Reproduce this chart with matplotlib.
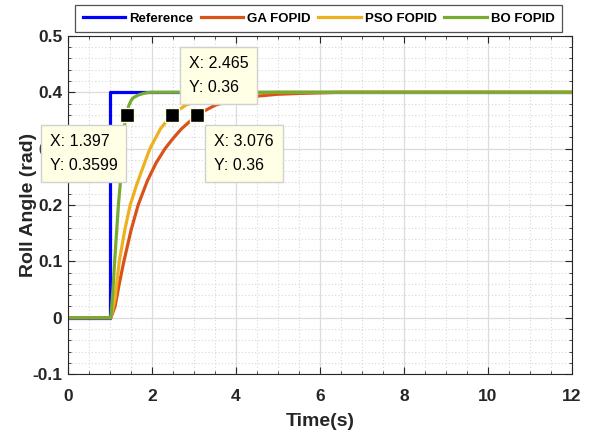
import matplotlib
matplotlib.use("Agg")
import matplotlib.pyplot as plt
from matplotlib.ticker import MultipleLocator

# step responses
t_ref = [0, 1.0, 1.0, 12]
y_ref = [0, 0, 0.4, 0.4]

t_ga = [0, 1.02, 1.12, 1.22, 1.33, 1.5, 1.67, 1.89, 2.1, 2.31, 2.5, 2.7, 3.076, 3.5, 4.0, 4.33, 5.0, 5.52, 6.5, 12]
y_ga = [0, 0, 0.02, 0.06, 0.1, 0.155, 0.2, 0.243, 0.275, 0.3, 0.318, 0.335, 0.36, 0.377, 0.388, 0.392, 0.3965, 0.398, 0.4, 0.4]

t_pso = [0, 1.02, 1.12, 1.22, 1.35, 1.48, 1.63, 1.8, 1.95, 2.2, 2.465, 2.8, 3.2, 3.6, 4.0, 4.5, 5.0, 12]
y_pso = [0, 0, 0.035, 0.1, 0.155, 0.2, 0.235, 0.27, 0.3, 0.335, 0.36, 0.377, 0.388, 0.394, 0.397, 0.399, 0.4, 0.4]

t_bo = [0, 1.02, 1.07, 1.11, 1.2, 1.25, 1.28, 1.34, 1.397, 1.44, 1.5, 1.55, 1.67, 1.8, 1.95, 2.3, 12]
y_bo = [0, 0, 0.05, 0.1, 0.2, 0.243, 0.3, 0.34, 0.36, 0.375, 0.385, 0.39, 0.395, 0.398, 0.4, 0.4, 0.4]

x_ticks = [0, 2, 4, 6, 8, 10, 12]
y_ticks = [-0.1, 0, 0.1, 0.2, 0.3, 0.4, 0.5]
y_labels = ["-0.1", "0", "0.1", "0.2", "0.3", "0.4", "0.5"]

tips_x = [1.397, 2.465, 3.076]
tips_y = [0.3599, 0.36, 0.36]
tips_txt = ["X: 1.397\nY: 0.3599", "X: 2.465\nY: 0.36", "X: 3.076\nY: 0.36"]

font = ["Liberation Sans", "DejaVu Sans"]
dark = "#262626"

fig = plt.figure(figsize=(5.89, 4.38), dpi=100)
ax = fig.add_axes([0.1155, 0.146, 0.8555, 0.772])

ax.plot(t_ref, y_ref, color="#0000FF", lw=2.3, label="Reference")
ax.plot(t_ga, y_ga, color="#D95319", lw=2.3, label="GA FOPID")
ax.plot(t_pso, y_pso, color="#EDB120", lw=2.3, label="PSO FOPID")
ax.plot(t_bo, y_bo, color="#77AC30", lw=2.3, label="BO FOPID")

ax.plot(tips_x, tips_y, ls="none", marker="s", ms=9.5, mfc="black",
        mec="#FFFFE1", mew=1.0, zorder=5)

offsets = [(-77, -19), (17, 20), (17, -19)]
aligns = [("left", "top"), ("left", "bottom"), ("left", "top")]
for x, y, s, off, (ha, va) in zip(tips_x, tips_y, tips_txt, offsets, aligns):
    ax.annotate(s, (x, y), xytext=off, textcoords="offset pixels",
                ha=ha, va=va, fontsize=11.5, family=font,
                linespacing=1.75, zorder=6, annotation_clip=False,
                bbox=dict(boxstyle="square,pad=0.55", fc="#FFFFE6", ec="#D0D0D0", lw=1))

ax.set_xlim(0, 12)
ax.set_ylim(-0.1, 0.5)
ax.set_xticks(x_ticks, [str(v) for v in x_ticks])
ax.set_yticks(y_ticks, y_labels)
ax.xaxis.set_minor_locator(MultipleLocator(0.5))
ax.yaxis.set_minor_locator(MultipleLocator(0.02))
ax.grid(which="major", color="#DCDCDC", lw=0.9)
ax.grid(which="minor", color="#D8D8D8", lw=0.8, ls=(0, (1, 2)))
ax.tick_params(which="both", direction="in", top=True, right=True, color=dark)
ax.tick_params(which="major", length=5, labelsize=12.5)
ax.tick_params(axis="x", which="major", pad=11)
ax.tick_params(axis="y", which="major", pad=4)
ax.tick_params(which="minor", length=2.5)
for lab in ax.get_xticklabels() + ax.get_yticklabels():
    lab.set_family(font)
    lab.set_fontweight("bold")
    lab.set_color(dark)
for sp in ax.spines.values():
    sp.set_color(dark)

ax.set_xlabel("Time(s)", fontsize=14, fontweight="bold", family=font, color=dark, labelpad=6)
ax.set_ylabel("Roll Angle (rad)", fontsize=14, fontweight="bold", family=font, color=dark, labelpad=-3)

leg = ax.legend(loc="lower center", bbox_to_anchor=(0.497, 1.0), ncol=4, frameon=True,
                fancybox=False, edgecolor=dark, handlelength=3.2, handletextpad=0.3,
                columnspacing=0.6, borderpad=0.55, borderaxespad=0.3,
                prop=dict(family=font, weight="bold", size=9.5))
leg.get_frame().set_linewidth(0.9)

fig.savefig("out.png", dpi=100)
